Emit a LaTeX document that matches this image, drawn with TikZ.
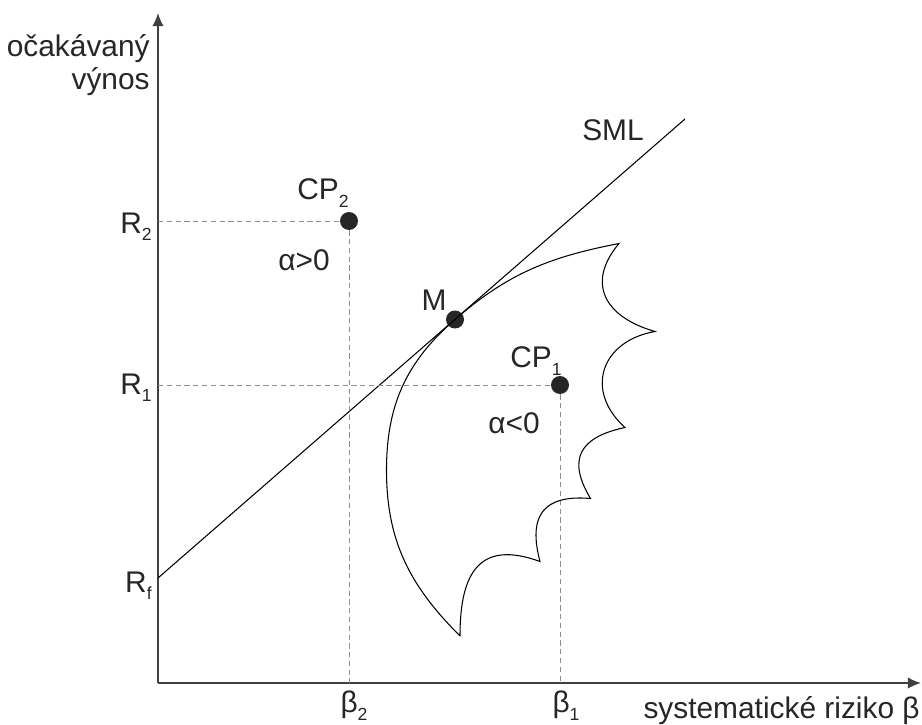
\documentclass[tikz,border=0pt]{standalone}
\usepackage{fontspec}
\setmainfont{Liberation Sans}
\usetikzlibrary{arrows.meta}
\newcommand{\lowsub}[1]{\raisebox{-0.5ex}{\fontsize{10}{10}\selectfont #1}}

\begin{document}
\begin{tikzpicture}[scale=1.0,
  font=\fontsize{17}{20}\selectfont, text=black!85,
  dot/.style={circle,fill=black!85,inner sep=0pt,minimum size=0.36cm},
  guide/.style={black!45,line width=0.5pt,dash pattern=on 3pt off 2pt},
  axis/.style={black!75,line width=0.9pt,-{Latex[length=7.5pt,width=6.5pt]}}]
\useasboundingbox (-3.16,-0.82) rectangle (15.28,13.66);
% axes
\coordinate (O) at (0,0);
\coordinate (xend) at (15.26,0);
\coordinate (yend) at (0,13.4);
\draw[axis] (O) -- (xend);
\draw[axis] (O) -- (yend);
\node[anchor=base east,inner sep=0pt] (ylab1) at (-0.16,12.52) {očakávaný};
\node[anchor=base east,inner sep=0pt] (ylab2) at (-0.16,11.86) {výnos};
\node[anchor=base east,inner sep=0pt] (xlab) at (15.24,-0.70) {systematické riziko β};
% security market line
\coordinate (Rf) at (0,2.1);
\coordinate (smlend) at (10.54,11.28);
\draw[line width=0.6pt] (Rf) -- (smlend);
\node (smllab) at (9.10,11.06) {SML};
\node[dot] (M) at (5.94,7.27) {};
\node (Mlab) at (5.52,7.66) {M};
% portfolios off the line
\node[dot] (CP2) at (3.82,9.24) {};
\node[dot] (CP1) at (8.04,5.96) {};
\coordinate (R2) at (0,9.24);
\coordinate (R1) at (0,5.96);
\coordinate (b2) at (3.82,0);
\coordinate (b1) at (8.04,0);
\draw[guide] (R2) -- (CP2) -- (b2);
\draw[guide] (R1) -- (CP1) -- (b1);
\node (CP2lab) at (3.30,9.80) {CP\lowsub{2}};
\node (CP1lab) at (7.56,6.44) {CP\lowsub{1}};
\node (a2lab) at (2.92,8.46) {α>0};
\node (a1lab) at (7.12,5.20) {α<0};
% tick labels
\node[anchor=base east,inner sep=0pt] (R2lab) at (-0.12,9.0) {R\lowsub{2}};
\node[anchor=base east,inner sep=0pt] (R1lab) at (-0.12,5.78) {R\lowsub{1}};
\node[anchor=base east,inner sep=0pt] (Rflab) at (-0.12,1.82) {R\lowsub{f}};
\node (b2lab) at (3.92,-0.46) {β\lowsub{2}};
\node (b1lab) at (8.16,-0.46) {β\lowsub{1}};
% feasible set with scalloped edge
\coordinate (T0) at (6.04,0.94);
\coordinate (T1) at (7.64,2.43);
\coordinate (T2) at (8.65,3.69);
\coordinate (T3) at (9.34,5.11);
\coordinate (T4) at (9.94,7.03);
\coordinate (T5) at (9.22,8.79);
\coordinate (L) at (4.57,4.26);
\draw[line width=0.6pt] (T0) to[out=90,in=160,looseness=1.5] (T1)
  to[out=105,in=175,looseness=1.5] (T2) to[out=121,in=192,looseness=1.5] (T3)
  to[out=138,in=190,looseness=1.4] (T4) to[out=164,in=230,looseness=1.4] (T5)
  to[out=191,in=41] (M.center) to[out=221,in=90] (L)
  to[out=270,in=135] (T0);
\end{tikzpicture}
\end{document}
